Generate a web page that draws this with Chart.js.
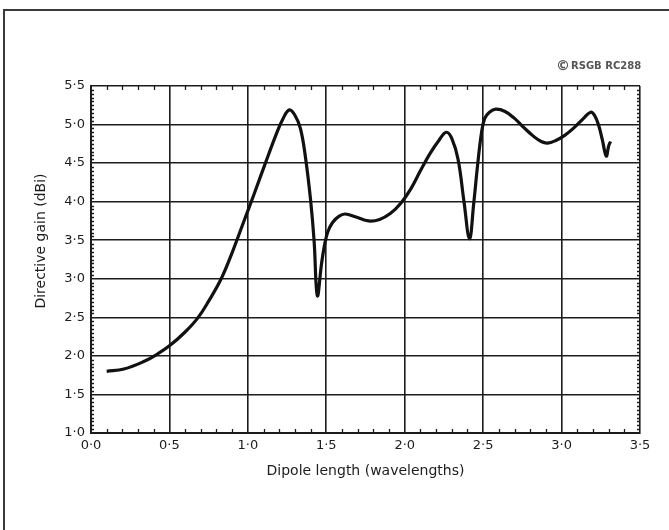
<!DOCTYPE html>
<html lang="en">
<head>
<meta charset="UTF-8">
<title>Directive gain of a dipole</title>
<script src="https://cdn.jsdelivr.net/npm/chart.js@4"></script>
<style>
  html, body { margin: 0; padding: 0; background: #fff; }
  #wrap { width: 669px; height: 530px; }
</style>
</head>
<body>
<div id="wrap"><canvas id="gainChart" width="669" height="530"></canvas></div>
<script>
// values
const dipoleLength = [0.10, 0.21, 0.34, 0.42, 0.50, 0.60, 0.68, 0.75, 0.83, 0.90, 0.97, 1.04, 1.11, 1.18, 1.225, 1.265,
  1.30, 1.335, 1.367, 1.40, 1.422, 1.443,
  1.47, 1.49, 1.51, 1.54, 1.58, 1.62, 1.69, 1.77, 1.84, 1.91, 1.975, 2.04, 2.10, 2.16, 2.22, 2.265, 2.30, 2.34, 2.378, 2.413,
  2.44, 2.466, 2.49, 2.51, 2.54, 2.58, 2.64, 2.70, 2.76, 2.82, 2.87, 2.91, 2.96, 3.02, 3.08, 3.14, 3.185, 3.21, 3.235,
  3.26, 3.285, 3.30, 3.312];
const directiveGain = [1.80, 1.83, 1.93, 2.02, 2.13, 2.31, 2.49, 2.71, 3.00, 3.34, 3.72, 4.10, 4.49, 4.87, 5.08, 5.19,
  5.12, 4.95, 4.58, 4.02, 3.50, 2.78,
  3.20, 3.45, 3.61, 3.73, 3.81, 3.84, 3.80, 3.75, 3.77, 3.85, 3.98, 4.17, 4.40, 4.62, 4.80, 4.90, 4.82, 4.55, 4.00, 3.52,
  3.98, 4.50, 4.90, 5.08, 5.16, 5.20, 5.17, 5.08, 4.96, 4.85, 4.78, 4.76, 4.79, 4.86, 4.96, 5.08, 5.16, 5.12, 5.00,
  4.80, 4.59, 4.72, 4.78];

const xTickValues = [0, 0.5, 1.0, 1.5, 2.0, 2.5, 3.0, 3.5];
const yTickValues = [1.0, 1.5, 2.0, 2.5, 3.0, 3.5, 4.0, 4.5, 5.0, 5.5];

const ink = '#1c1c1c';
const face = 'DejaVu Sans';
const fmt = v => Number(v).toFixed(1).replace('.', '\u00B7');

// page frame, copyright note, y title and the small inward ticks
const paperBits = {
  id: 'paperBits',
  beforeDraw(chart) {
    const ctx = chart.ctx;
    ctx.save();
    ctx.fillStyle = '#fff';
    ctx.fillRect(0, 0, chart.width, chart.height);
    ctx.strokeStyle = '#3a3a3a';
    ctx.lineWidth = 2;
    ctx.beginPath();
    ctx.moveTo(4, chart.height);
    ctx.lineTo(4, 10);
    ctx.lineTo(chart.width, 10);
    ctx.stroke();
    ctx.restore();
  },
  afterDraw(chart) {
    const ctx = chart.ctx;
    const xs = chart.scales.x, ys = chart.scales.y;
    const a = chart.chartArea;
    ctx.save();
    ctx.strokeStyle = ink;
    ctx.lineWidth = 1.3;
    ctx.beginPath();
    for (let i = 1; i < 35; i++) {
      if (i % 5 === 0) continue;
      const px = Math.round(xs.getPixelForValue(i / 10)) + 0.5;
      ctx.moveTo(px, a.bottom); ctx.lineTo(px, a.bottom - 4);
      ctx.moveTo(px, a.top); ctx.lineTo(px, a.top + 4);
    }
    for (let i = 1; i < 90; i++) {
      if (i % 10 === 0) continue;
      const py = Math.round(ys.getPixelForValue(1 + i * 0.05)) + 0.5;
      ctx.moveTo(a.left, py); ctx.lineTo(a.left + 3, py);
      ctx.moveTo(a.right, py); ctx.lineTo(a.right - 3, py);
    }
    ctx.stroke();

    // y axis title, sits a little above centre in the original
    ctx.fillStyle = ink;
    ctx.font = '14px "' + face + '"';
    ctx.textAlign = 'center';
    ctx.textBaseline = 'middle';
    ctx.translate(41, 241);
    ctx.rotate(-Math.PI / 2);
    ctx.fillText('Directive gain (dBi)', 0, 0);
    ctx.setTransform(1, 0, 0, 1, 0, 0);

    // copyright mark
    ctx.fillStyle = '#555';
    ctx.font = 'bold 14px "' + face + '"';
    ctx.textAlign = 'left';
    ctx.fillText('\u00A9', 556, 66);
    ctx.font = 'bold 10px "' + face + '"';
    ctx.fillText('RSGB RC288', 571, 66);
    ctx.restore();
  }
};

new Chart(document.getElementById('gainChart'), {
  type: 'line',
  data: {
    datasets: [{
      data: dipoleLength.map((x, i) => ({ x: x, y: directiveGain[i] })),
      borderColor: '#111',
      borderWidth: 3.2,
      pointRadius: 0,
      fill: false,
      tension: 0.4
    }]
  },
  options: {
    responsive: false,
    animation: false,
    layout: { padding: { top: 86, right: 29, left: 0, bottom: 0 } },
    plugins: { legend: { display: false }, tooltip: { enabled: false } },
    scales: {
      x: {
        type: 'linear',
        min: 0, max: 3.5,
        afterBuildTicks: s => { s.ticks = xTickValues.map(v => ({ value: v })); },
        afterFit: s => { s.height = 97; },
        grid: { color: ink, lineWidth: 1.6, drawTicks: false },
        border: { color: ink, width: 2 },
        ticks: { color: ink, padding: 5, font: { family: face, size: 13 }, callback: v => fmt(v) },
        title: { display: true, text: 'Dipole length (wavelengths)', color: ink,
          font: { family: face, size: 14 }, padding: { top: 0, bottom: 50 } }
      },
      y: {
        min: 1, max: 5.5,
        afterBuildTicks: s => { s.ticks = yTickValues.map(v => ({ value: v })); },
        afterFit: s => { s.width = 91; },
        grid: { color: ink, lineWidth: 1.6, drawTicks: false },
        border: { color: ink, width: 2 },
        ticks: { color: ink, padding: 6, font: { family: face, size: 13 }, callback: v => fmt(v) }
      }
    }
  },
  plugins: [paperBits]
});
</script>
</body>
</html>
